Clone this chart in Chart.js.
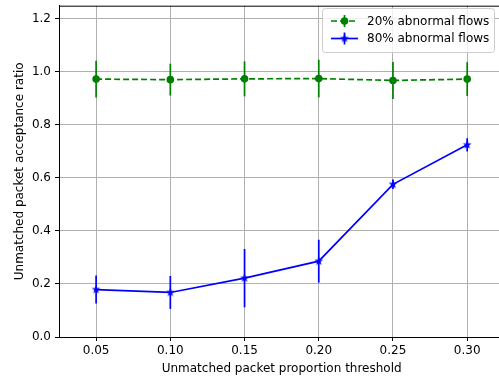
<!DOCTYPE html>
<html>
<head>
<meta charset="utf-8">
<script src="https://cdn.jsdelivr.net/npm/chart.js@4"></script>
<style>
  html, body { margin: 0; padding: 0; background: #fff; overflow: hidden; }
  canvas { display: block; }
</style>
</head>
<body>
<canvas id="grafico" width="510" height="379"></canvas>
<script>
// dati
const soglie = [0.05, 0.10, 0.15, 0.20, 0.25, 0.30];
const media20 = [0.973, 0.971, 0.974, 0.975, 0.968, 0.973];
const errore20 = [0.069, 0.060, 0.066, 0.071, 0.070, 0.064];
const media80 = [0.179, 0.168, 0.222, 0.286, 0.576, 0.725];
const errore80 = [0.053, 0.062, 0.110, 0.081, 0.018, 0.025];
const tickX = [0.05, 0.10, 0.15, 0.20, 0.25, 0.30];
const tickY = [0.0, 0.2, 0.4, 0.6, 0.8, 1.0, 1.2];
const etichette = ["20% abnormal flows", "80% abnormal flows"];

const FONT = "'DejaVu Sans', sans-serif";
const VERDE = "#008000";
const BLU = "#0000ff";

// stella piena stile matplotlib
function creaStella(r, colore) {
  const c = document.createElement("canvas");
  const s = Math.ceil(r * 2 + 2);
  c.width = s;
  c.height = s;
  const g = c.getContext("2d");
  g.fillStyle = colore;
  g.beginPath();
  for (let i = 0; i < 10; i++) {
    const rr = i % 2 === 0 ? r : r * 0.42;
    const a = -Math.PI / 2 + (i * Math.PI) / 5;
    const px = s / 2 + rr * Math.cos(a);
    const py = s / 2 + rr * Math.sin(a);
    if (i === 0) g.moveTo(px, py);
    else g.lineTo(px, py);
  }
  g.closePath();
  g.fill();
  return c;
}
const stella = creaStella(4.6, BLU);

function punti(medie) {
  return soglie.map((x, i) => ({ x: x, y: medie[i] }));
}

// barre di errore disegnate con le scale del grafico
const barreErrore = {
  id: "barreErrore",
  beforeDatasetsDraw(chart) {
    const ctx = chart.ctx;
    const sx = chart.scales.x;
    const sy = chart.scales.y;
    const serie = [
      { m: media20, e: errore20, col: VERDE },
      { m: media80, e: errore80, col: BLU },
    ];
    ctx.save();
    serie.forEach((s) => {
      ctx.strokeStyle = s.col;
      ctx.lineWidth = 1.7;
      soglie.forEach((x, i) => {
        const px = sx.getPixelForValue(x);
        ctx.beginPath();
        ctx.moveTo(px, sy.getPixelForValue(s.m[i] + s.e[i]));
        ctx.lineTo(px, sy.getPixelForValue(s.m[i] - s.e[i]));
        ctx.stroke();
      });
    });
    ctx.restore();
  },
};

// bordo superiore e destro del riquadro
const cornice = {
  id: "cornice",
  afterDatasetsDraw(chart) {
    const { ctx, chartArea } = chart;
    ctx.save();
    ctx.strokeStyle = "#000";
    ctx.lineWidth = 1;
    ctx.beginPath();
    ctx.moveTo(chartArea.left, chartArea.top + 0.5);
    ctx.lineTo(chartArea.right, chartArea.top + 0.5);
    ctx.lineTo(chartArea.right, chartArea.bottom);
    ctx.stroke();
    ctx.restore();
  },
};

// legenda dentro l'area del grafico, in alto a destra
const legenda = {
  id: "legenda",
  afterDraw(chart) {
    const ctx = chart.ctx;
    const x0 = 322.5, y0 = 8.5, w = 172, h = 44;
    ctx.save();
    ctx.fillStyle = "rgba(255,255,255,0.8)";
    ctx.strokeStyle = "#cccccc";
    ctx.lineWidth = 1;
    ctx.beginPath();
    ctx.roundRect(x0, y0, w, h, 3);
    ctx.fill();
    ctx.stroke();

    const righe = [
      { y: 21, col: VERDE, dash: [6, 3], label: etichette[0], stella: false },
      { y: 38.5, col: BLU, dash: [], label: etichette[1], stella: true },
    ];
    righe.forEach((r) => {
      ctx.strokeStyle = r.col;
      ctx.lineWidth = 1.7;
      ctx.setLineDash(r.dash);
      ctx.beginPath();
      ctx.moveTo(331, r.y);
      ctx.lineTo(358, r.y);
      ctx.stroke();
      ctx.setLineDash([]);
      ctx.beginPath();
      ctx.moveTo(344.5, r.y - 6);
      ctx.lineTo(344.5, r.y + 6);
      ctx.stroke();
      if (r.stella) {
        ctx.drawImage(stella, 344.5 - stella.width / 2, r.y - stella.height / 2);
      } else {
        ctx.fillStyle = r.col;
        ctx.beginPath();
        ctx.arc(344.5, r.y, 3.8, 0, Math.PI * 2);
        ctx.fill();
      }
      ctx.fillStyle = "#000";
      ctx.font = "12px " + FONT;
      ctx.textBaseline = "middle";
      ctx.textAlign = "left";
      ctx.fillText(r.label, 367, r.y + 0.5);
    });
    ctx.restore();
  },
};

const ctx = document.getElementById("grafico").getContext("2d");
new Chart(ctx, {
  type: "line",
  data: {
    datasets: [
      {
        label: etichette[0],
        data: punti(media20),
        borderColor: VERDE,
        backgroundColor: VERDE,
        borderWidth: 1.7,
        borderDash: [6, 3],
        pointStyle: "circle",
        pointRadius: 3.8,
        pointBorderWidth: 0,
        tension: 0,
      },
      {
        label: etichette[1],
        data: punti(media80),
        borderColor: BLU,
        backgroundColor: BLU,
        borderWidth: 1.7,
        pointStyle: stella,
        pointRadius: 4,
        tension: 0,
      },
    ],
  },
  options: {
    responsive: false,
    animation: false,
    layout: { padding: { left: 0, right: 3, top: 4, bottom: 0 } },
    plugins: {
      legend: { display: false },
      tooltip: { enabled: false },
    },
    scales: {
      x: {
        type: "linear",
        min: 0.025,
        max: 0.325,
        afterBuildTicks: (s) => { s.ticks = tickX.map((v) => ({ value: v })); },
        afterFit: (s) => {
          s.height = 42;
          s.paddingLeft = 0;
          s.paddingRight = 0;
        },
        grid: { color: "#b0b0b0", lineWidth: 1, tickColor: "#000", tickLength: 4 },
        border: { color: "#000", width: 1 },
        ticks: {
          color: "#000",
          font: { family: FONT, size: 12 },
          padding: 3,
          maxRotation: 0,
          callback: (v) => v.toFixed(2),
        },
        title: {
          display: true,
          text: "Unmatched packet proportion threshold",
          color: "#000",
          font: { family: FONT, size: 12 },
          padding: { top: 0, bottom: 3 },
        },
      },
      y: {
        min: 0,
        max: 1.25,
        afterBuildTicks: (s) => { s.ticks = tickY.map((v) => ({ value: v })); },
        afterFit: (s) => {
          s.width = 59;
          s.paddingTop = 0;
          s.paddingBottom = 0;
        },
        grid: { color: "#b0b0b0", lineWidth: 1, tickColor: "#000", tickLength: 4 },
        border: { color: "#000", width: 1 },
        ticks: {
          color: "#000",
          font: { family: FONT, size: 12 },
          padding: 4,
          callback: (v) => v.toFixed(1),
        },
        title: {
          display: true,
          text: "Unmatched packet acceptance ratio",
          color: "#000",
          font: { family: FONT, size: 12 },
          padding: { top: 13, bottom: 0 },
        },
      },
    },
  },
  plugins: [barreErrore, cornice, legenda],
});
</script>
</body>
</html>
